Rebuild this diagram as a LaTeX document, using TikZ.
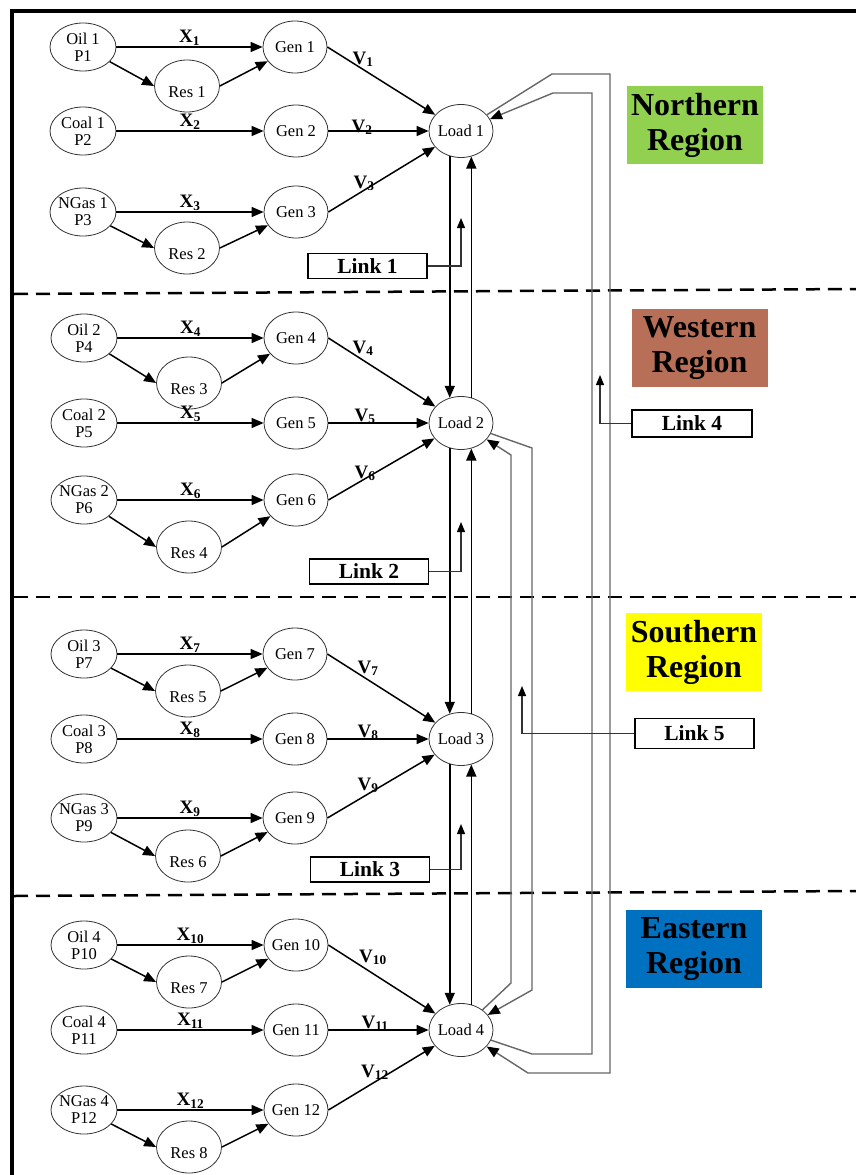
\documentclass[tikz,border=0pt]{standalone}
\usepackage{fontspec}
\setmainfont{Liberation Serif}
\usetikzlibrary{shapes.geometric,arrows.meta}
\definecolor{ngreen}{RGB}{146,208,80}
\definecolor{wbrown}{RGB}{184,111,87}
\definecolor{syellow}{RGB}{255,255,0}
\definecolor{eblue}{RGB}{0,112,192}
\newcommand\lowtext[1]{\raisebox{-11pt}[0pt][0pt]{#1}}
\begin{document}
\begin{tikzpicture}[x=1pt,y=-1pt,
  every node/.style={font=\fontsize{16.5}{17}\selectfont},
  ell/.style={ellipse,draw=black!80,line width=0.8pt,inner sep=-10pt,align=center},
  src/.style={ell,minimum width=66pt,minimum height=48pt},
  gen/.style={ell,minimum width=64pt,minimum height=52pt},
  res/.style={ell,minimum width=65pt,minimum height=52pt},
  load/.style={ell,minimum width=64pt,minimum height=53pt},
  arr/.style={line width=1.5pt,-{Triangle[length=12pt,width=10pt]}},
  xlab/.style={font=\bfseries\fontsize{19}{20}\selectfont,inner sep=1pt},
  vlab/.style={font=\bfseries\fontsize{19}{20}\selectfont,inner sep=0pt,anchor=base},
  linkbox/.style={draw,line width=1.6pt,minimum width=119pt,minimum height=25pt,inner sep=0pt,font=\bfseries\fontsize{21.5}{22}\selectfont},
  linkarr/.style={line width=1.2pt,draw=black!80,-{Triangle[length=10pt,width=8pt,color=black]}},
  region/.style={minimum width=136pt,minimum height=78pt,inner sep=0pt,align=center,font=\bfseries\fontsize{32}{35}\selectfont},
  loopline/.style={draw=black!60,line width=1.4pt},
  looparr/.style={loopline,-{Triangle[length=12pt,width=10pt,color=black]}},
  divider/.style={dash pattern=on 14pt off 8pt,line width=2.5pt}
]
\useasboundingbox (0,0) rectangle (856,1175);
% frame
\draw[line width=3.5pt] (12,1180) -- (12,11) -- (860,11);
% dividers
\draw[divider] (14,294) -- (856,289);
\draw[divider] (14,597) -- (856,597);
\draw[divider] (14,896) -- (856,891);

% ---------- Region 1 ----------
\node[src] (s1) at (83,47) {Oil 1\\P1};
\node[gen] (g1) at (295,47) {Gen 1};
\node[res] (r1) at (187,86) {\lowtext{Res 1}};
\node[src] (s2) at (83,131) {Coal 1\\P2};
\node[gen] (g2) at (296,131) {Gen 2};
\node[load] (L1) at (461,131) {Load 1};
\node[src] (s3) at (83,212) {NGas 1\\P3};
\node[gen] (g3) at (296,212) {Gen 3};
\node[res] (r2) at (187,248) {\lowtext{Res 2}};

% ---------- Region 2 ----------
\node[src] (s4) at (84,338) {Oil 2\\P4};
\node[gen] (g4) at (296,338) {Gen 4};
\node[res] (r3) at (189,383) {\lowtext{Res 3}};
\node[src] (s5) at (84,423) {Coal 2\\P5};
\node[gen] (g5) at (296,423) {Gen 5};
\node[load] (L2) at (461,423) {Load 2};
\node[src] (s6) at (84,500) {NGas 2\\P6};
\node[gen] (g6) at (296,500) {Gen 6};
\node[res] (r4) at (189,547) {\lowtext{Res 4}};

% ---------- Region 3 ----------
\node[src] (s7) at (84,654) {Oil 3\\P7};
\node[gen] (g7) at (295,654) {Gen 7};
\node[res] (r5) at (188,691) {\lowtext{Res 5}};
\node[src] (s8) at (84,739) {Coal 3\\P8};
\node[gen] (g8) at (295,739) {Gen 8};
\node[load] (L3) at (461,739) {Load 3};
\node[src] (s9) at (84,818) {NGas 3\\P9};
\node[gen] (g9) at (295,818) {Gen 9};
\node[res] (r6) at (188,856) {\lowtext{Res 6}};

% ---------- Region 4 ----------
\node[src] (s10) at (84,945) {Oil 4\\P10};
\node[gen] (g10) at (296,945) {Gen 10};
\node[res] (r7) at (189,982) {\lowtext{Res 7}};
\node[src] (s11) at (84,1030) {Coal 4\\P11};
\node[gen] (g11) at (296,1030) {Gen 11};
\node[load] (L4) at (461,1030) {Load 4};
\node[src] (s12) at (84,1110) {NGas 4\\P12};
\node[gen] (g12) at (296,1110) {Gen 12};
\node[res] (r8) at (189,1147) {\lowtext{Res 8}};

% ---------- fuel -> gen arrows ----------
\draw[arr] (s1.east) -- node[xlab,midway,above]{X\textsubscript{1}} (g1.west);
\draw[arr] (s2.east) -- node[xlab,midway,above]{X\textsubscript{2}} (g2.west);
\draw[arr] (s3.east) -- node[xlab,midway,above]{X\textsubscript{3}} (g3.west);
\draw[arr] (s4.east) -- node[xlab,midway,above]{X\textsubscript{4}} (g4.west);
\draw[arr] (s5.east) -- node[xlab,midway,above]{X\textsubscript{5}} (g5.west);
\draw[arr] (s6.east) -- node[xlab,midway,above]{X\textsubscript{6}} (g6.west);
\draw[arr] (s7.east) -- node[xlab,midway,above]{X\textsubscript{7}} (g7.west);
\draw[arr] (s8.east) -- node[xlab,midway,above]{X\textsubscript{8}} (g8.west);
\draw[arr] (s9.east) -- node[xlab,midway,above]{X\textsubscript{9}} (g9.west);
\draw[arr] (s10.east) -- node[xlab,midway,above]{X\textsubscript{10}} (g10.west);
\draw[arr] (s11.east) -- node[xlab,midway,above]{X\textsubscript{11}} (g11.west);
\draw[arr] (s12.east) -- node[xlab,midway,above]{X\textsubscript{12}} (g12.west);

% fuel -> res -> gen
\foreach \s/\r/\g in {s1/r1/g1, s3/r2/g3, s4/r3/g4, s6/r4/g6, s7/r5/g7, s9/r6/g9, s10/r7/g10, s12/r8/g12}{
  \draw[arr] (\s) -- (\r.west);
  \draw[arr] (\r.east) -- (\g);
}

% gen -> load
\foreach \g/\l in {g1/L1, g3/L1, g4/L2, g6/L2, g7/L3, g9/L3, g10/L4, g12/L4}{
  \draw[arr] (\g.east) -- (\l);
}
\draw[arr] (g2.east) -- (L1.west);
\draw[arr] (g5.east) -- (L2.west);
\draw[arr] (g8.east) -- (L3.west);
\draw[arr] (g11.east) -- (L4.west);

% V labels
\node[vlab] (v1) at (363,64) {V\textsubscript{1}};
\node[vlab] (v2) at (362,132) {V\textsubscript{2}};
\node[vlab] (v3) at (364,188) {V\textsubscript{3}};
\node[vlab] (v4) at (363,353) {V\textsubscript{4}};
\node[vlab] (v5) at (365,421) {V\textsubscript{5}};
\node[vlab] (v6) at (365,478) {V\textsubscript{6}};
\node[vlab] (v7) at (368,673) {V\textsubscript{7}};
\node[vlab] (v8) at (368,737) {V\textsubscript{8}};
\node[vlab] (v9) at (368,790) {V\textsubscript{9}};
\node[vlab] (v10) at (373,962) {V\textsubscript{10}};
\node[vlab] (v11) at (375,1028) {V\textsubscript{11}};
\node[vlab] (v12) at (375,1077) {V\textsubscript{12}};

% ---------- load <-> load vertical links ----------
\draw[arr] (L1.246) -- (L2.114);
\draw[arr] (L2.68) -- (L1.292);
\draw[arr] (L2.246) -- (L3.114);
\draw[arr] (L3.68) -- (L2.292);
\draw[arr] (L3.246) -- (L4.114);
\draw[arr] (L4.68) -- (L3.292);

% ---------- long loops ----------
\draw[looparr] (L1) -- (552,74) -- (610,74) -- (610,1073) -- (528,1073) -- (L4);
\draw[looparr] (L4) -- (532,1054) -- (592,1054) -- (592,93) -- (553,93) -- (L1);
\draw[looparr] (L2) -- (532,448) -- (532,990) -- (L4);
\draw[looparr] (L4) -- (511,983) -- (511,455) -- (L2);

% ---------- link boxes ----------
\node[linkbox] (k1) at (367.5,266) {Link 1};
\node[linkbox] (k2) at (369,571.5) {Link 2};
\node[linkbox] (k3) at (370,869.5) {Link 3};
\node[linkbox,minimum width=120pt,minimum height=27pt] (k4) at (692,423.5) {Link 4};
\node[linkbox,minimum height=30pt] (k5) at (694.5,733.5) {Link 5};
\coordinate (t1) at (461,218);
\coordinate (t2) at (461,522);
\coordinate (t3) at (461,824);
\coordinate (t4) at (600,375);
\coordinate (t5) at (522,686);
\draw[linkarr] (k1.east) -| (t1);
\draw[linkarr] (k2.east) -| (t2);
\draw[linkarr] (k3.east) -| (t3);
\draw[linkarr] (k4.west) -| (t4);
\draw[linkarr] (k5.west) -| (t5);

% ---------- region labels ----------
\node[region,fill=ngreen] (nr) at (695,125) {Northern\\Region};
\node[region,fill=wbrown] (wr) at (699.5,348) {Western\\Region};
\node[region,fill=syellow] (sr) at (694,652) {Southern\\Region};
\node[region,fill=eblue] (er) at (694,949) {Eastern\\Region};
\end{tikzpicture}
\end{document}
